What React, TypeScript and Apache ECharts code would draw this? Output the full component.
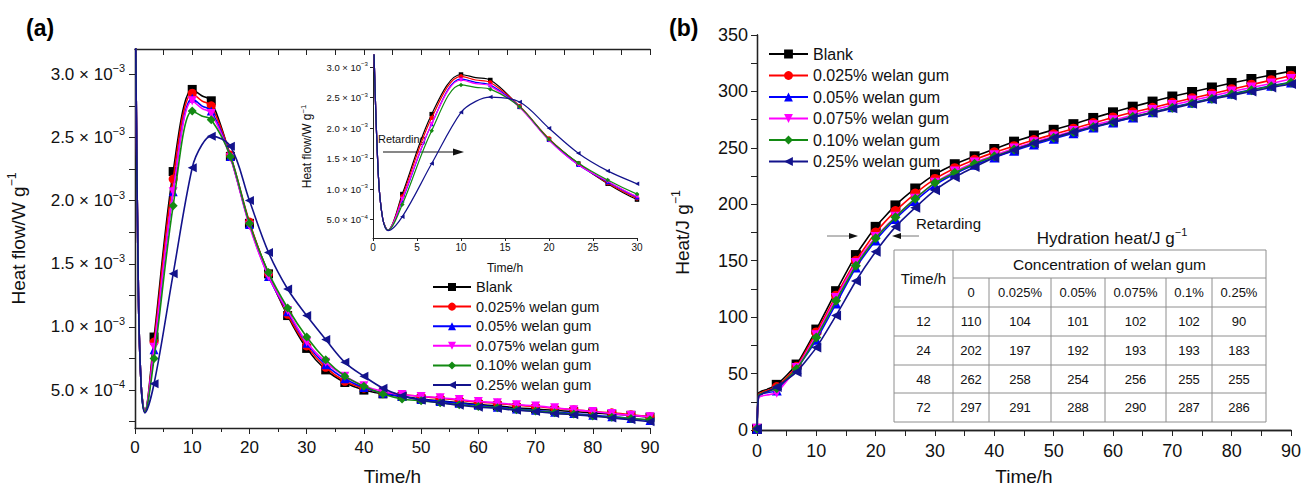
import React, { useEffect, useRef } from 'react';
import * as echarts from 'echarts';

const FONT = '"Liberation Sans", Arial, Helvetica, sans-serif';

// ---------- series definitions ----------
const seriesNames = ['Blank', '0.025% welan gum', '0.05% welan gum', '0.075% welan gum', '0.10% welan gum', '0.25% welan gum'];
const seriesColors = ['#000000', '#ff0000', '#0000ff', '#ff00ff', '#138a13', '#13138c'];
const seriesSymbols = ['rect', 'circle', 'triangle', 'triangle', 'diamond', 'triangle'];
const seriesRotations = [0, 0, 0, 180, 0, 90];

// ---------- (a) heat flow, in 10^-3 W/g ----------
const flowTimes = [0.05, 0.6, 1.1, 1.7, 3.33, 6.67, 10, 11.67, 13.33, 16.67, 20, 23.33, 26.67, 30, 33.33, 36.67, 40, 43.33, 46.67, 50, 53.33, 56.67, 60, 63.33, 66.67, 70, 73.33, 76.67, 80, 83.33, 86.67, 90];
const flowBlank = [3.6, 1.25, 0.52, 0.33, 0.92, 2.23, 2.88, 2.83, 2.79, 2.35, 1.82, 1.42, 1.09, 0.83, 0.66, 0.56, 0.5, 0.47, 0.45, 0.43, 0.415, 0.4, 0.385, 0.375, 0.36, 0.35, 0.34, 0.33, 0.32, 0.31, 0.3, 0.285];
const flow0025 = [3.6, 1.25, 0.52, 0.33, 0.88, 2.17, 2.85, 2.79, 2.75, 2.36, 1.83, 1.42, 1.1, 0.85, 0.68, 0.57, 0.515, 0.48, 0.465, 0.45, 0.435, 0.42, 0.405, 0.395, 0.38, 0.37, 0.355, 0.345, 0.33, 0.32, 0.305, 0.29];
const flow005 = [3.6, 1.25, 0.52, 0.33, 0.82, 2.07, 2.81, 2.75, 2.71, 2.35, 1.81, 1.4, 1.12, 0.87, 0.7, 0.59, 0.52, 0.475, 0.45, 0.425, 0.41, 0.395, 0.38, 0.365, 0.35, 0.34, 0.325, 0.315, 0.3, 0.29, 0.275, 0.26];
const flow0075 = [3.6, 1.25, 0.52, 0.33, 0.84, 2.07, 2.79, 2.73, 2.69, 2.34, 1.8, 1.4, 1.13, 0.88, 0.72, 0.61, 0.535, 0.49, 0.465, 0.45, 0.44, 0.425, 0.41, 0.4, 0.385, 0.375, 0.36, 0.345, 0.33, 0.315, 0.3, 0.29];
const flow010 = [3.6, 1.25, 0.52, 0.33, 0.75, 1.96, 2.71, 2.67, 2.64, 2.35, 1.82, 1.43, 1.15, 0.92, 0.74, 0.61, 0.53, 0.47, 0.43, 0.415, 0.4, 0.385, 0.37, 0.36, 0.345, 0.335, 0.32, 0.31, 0.295, 0.285, 0.275, 0.265];
const flow025 = [3.6, 1.25, 0.52, 0.32, 0.55, 1.42, 2.26, 2.44, 2.51, 2.43, 2.0, 1.59, 1.3, 1.09, 0.9, 0.72, 0.61, 0.515, 0.455, 0.42, 0.4, 0.38, 0.365, 0.355, 0.34, 0.33, 0.315, 0.305, 0.295, 0.28, 0.265, 0.25];
const flowSeries = [flowBlank, flow0025, flow005, flow0075, flow010, flow025];
const flowLabelValues = [0.5, 1.0, 1.5, 2.0, 2.5, 3.0];
const flowTickValues = [0.25, 0.5, 0.75, 1.0, 1.25, 1.5, 1.75, 2.0, 2.25, 2.5, 2.75, 3.0];

// ---------- (b) cumulative heat, J/g ----------
const heatTimes = [0, 0.3, 1.7, 3.33, 6.67, 10, 13.33, 16.67, 20, 23.33, 26.67, 30, 33.33, 36.67, 40, 43.33, 46.67, 50, 53.33, 56.67, 60, 63.33, 66.67, 70, 73.33, 76.67, 80, 83.33, 86.67, 90];
const heatBlank = [1, 33, 36, 40, 58, 89, 123, 155, 180, 199, 214, 226.5, 235.5, 242.5, 249, 255.5, 261, 266, 271, 276.5, 281.5, 286.5, 291, 295.5, 299.5, 303.5, 307.5, 311, 314.5, 318];
const heat0025 = [1, 32, 35, 38, 56, 86.5, 119, 150, 175, 194, 209.5, 222.5, 232, 239.5, 246, 251.5, 257, 262, 267, 272, 277, 281.5, 285.5, 290, 294, 298, 302, 306, 310, 314];
const heat005 = [1, 31, 33, 35, 54, 80, 112, 144, 168, 187, 203, 217, 227, 235, 241.5, 247.5, 253, 258, 263, 268, 272.5, 277, 281.5, 286, 290, 294, 298, 301.5, 305, 308];
const heat0075 = [1, 29, 31, 33, 55, 84, 117, 148, 171, 189, 205, 219, 229, 237, 243.5, 249.5, 255, 260, 265, 270, 274.5, 279, 283.5, 288, 292, 296, 300, 303.5, 307, 311];
const heat010 = [1, 31, 34, 37, 54, 82, 114.5, 145.5, 170, 188.5, 205, 219, 228, 236, 242.5, 248.5, 254, 259, 264, 268.5, 273, 277.5, 281.5, 285.5, 289.5, 293.5, 297.5, 301, 304.5, 308];
const heat025 = [1, 30, 34, 38, 51.5, 73, 101.5, 132, 158, 180, 197, 212.5, 224, 233, 241.5, 248, 254, 259, 264, 268.5, 273, 277, 281, 285, 289, 293, 296.5, 300, 303.5, 306.5];
const heatSeries = [heatBlank, heat0025, heat005, heat0075, heat010, heat025];

// ---------- table ----------
const tableTitle = 'Hydration heat/J g';
const tableHeaderTime = 'Time/h';
const tableHeaderConc = 'Concentration of welan gum';
const tableConcs = ['0', '0.025%', '0.05%', '0.075%', '0.1%', '0.25%'];
const tableTimes = [12, 24, 48, 72];
const tableRow12 = [110, 104, 101, 102, 102, 90];
const tableRow24 = [202, 197, 192, 193, 193, 183];
const tableRow48 = [262, 258, 254, 256, 255, 255];
const tableRow72 = [297, 291, 288, 290, 287, 286];
const tableRows = [tableRow12, tableRow24, tableRow48, tableRow72];

const isThird = (t: number) => Math.abs(t * 0.3 - Math.round(t * 0.3)) < 0.01;

function buildData(times: number[], values: number[], marker: (t: number) => boolean) {
  return times.map((t, i) => (marker(t) ? [t, values[i]] : { value: [t, values[i]], symbol: 'none' }));
}

const flowLabel = (v: number) =>
  v >= 0.99 ? `{b|${v.toFixed(1)} × 10}{s|−3}` : `{b|${(v * 10).toFixed(1)} × 10}{s|−4}`;

const supRich = (fs: number, key: string) => {
  const ss = Math.round(fs * 0.64 * 10) / 10;
  return {
    [key]: { fontSize: fs, fontFamily: FONT, color: '#111' },
    s: { fontSize: ss, fontFamily: FONT, color: '#111', padding: [0, 0, Math.round(fs * 0.7), 0] },
  };
};

function buildOption(): any {
  const axisLine = { show: true, lineStyle: { color: '#222', width: 1.3 } };
  const series: any[] = [];
  // (a) main
  flowSeries.forEach((vals, k) => {
    series.push({
      name: seriesNames[k], type: 'line', xAxisIndex: 0, yAxisIndex: 0,
      data: buildData(flowTimes, vals, (t) => t > 3 && isThird(t)),
      smooth: 0.35, symbol: seriesSymbols[k], symbolRotate: seriesRotations[k], symbolSize: 9,
      lineStyle: { color: seriesColors[k], width: 1.6 }, itemStyle: { color: seriesColors[k] },
      z: 3 + k,
    });
  });
  // (b)
  heatSeries.forEach((vals, k) => {
    series.push({
      name: seriesNames[k], type: 'line', xAxisIndex: 3, yAxisIndex: 3,
      data: buildData(heatTimes, vals, (t) => t === 0 || (t > 3 && isThird(t))),
      smooth: 0.15, symbol: seriesSymbols[k], symbolRotate: seriesRotations[k], symbolSize: 10,
      lineStyle: { color: seriesColors[k], width: 1.6 }, itemStyle: { color: seriesColors[k] },
      z: 3 + k,
    });
  });
  // (a) inset
  flowSeries.forEach((vals, k) => {
    series.push({
      name: seriesNames[k], type: 'line', xAxisIndex: 2, yAxisIndex: 2,
      data: buildData(flowTimes, vals, (t) => t > 3 && isThird(t)),
      smooth: 0.35, symbol: seriesSymbols[k], symbolRotate: seriesRotations[k], symbolSize: 4.5,
      lineStyle: { color: seriesColors[k], width: 1.2 }, itemStyle: { color: seriesColors[k] },
      z: 3 + k,
    });
  });

  // ---- graphic: labels, arrows, table ----
  const graphic: any[] = [];
  graphic.push({ type: 'text', x: 26, y: 28, style: { text: '(a)', font: `bold 23px ${FONT}`, fill: '#000', verticalAlign: 'middle' } });
  graphic.push({ type: 'text', x: 669, y: 28, style: { text: '(b)', font: `bold 23px ${FONT}`, fill: '#000', verticalAlign: 'middle' } });
  // inset retarding arrow
  graphic.push({ type: 'text', x: 378, y: 139, style: { text: 'Retarding', font: `11px ${FONT}`, fill: '#111', verticalAlign: 'middle' } });
  graphic.push({ type: 'line', shape: { x1: 383, y1: 152, x2: 455, y2: 152 }, style: { stroke: '#111', lineWidth: 1.2 } });
  graphic.push({ type: 'polygon', shape: { points: [[464, 152], [453, 148.5], [453, 155.5]] }, style: { fill: '#111' } });
  // (b) retarding arrows
  graphic.push({ type: 'text', x: 916, y: 223, style: { text: 'Retarding', font: `15px ${FONT}`, fill: '#111', verticalAlign: 'middle' } });
  graphic.push({ type: 'line', shape: { x1: 827, y1: 236, x2: 850, y2: 236 }, style: { stroke: '#777', lineWidth: 1 } });
  graphic.push({ type: 'polygon', shape: { points: [[858, 236], [849, 233], [849, 239]] }, style: { fill: '#111' } });
  graphic.push({ type: 'line', shape: { x1: 900, y1: 236, x2: 919, y2: 236 }, style: { stroke: '#777', lineWidth: 1 } });
  graphic.push({ type: 'polygon', shape: { points: [[892, 236], [901, 233], [901, 239]] }, style: { fill: '#111' } });

  // table
  const colX = [894, 953, 989, 1051, 1105, 1166, 1212, 1266];
  const rowY = [250, 278, 307, 336, 365, 393, 422];
  const gridStroke = { stroke: '#8e8e8e', lineWidth: 1 };
  graphic.push({ type: 'rect', shape: { x: colX[0], y: rowY[0], width: colX[7] - colX[0], height: rowY[6] - rowY[0] }, style: { fill: '#fff', stroke: '#8e8e8e', lineWidth: 1 } });
  graphic.push({ type: 'line', shape: { x1: colX[1], y1: rowY[1], x2: colX[7], y2: rowY[1] }, style: gridStroke });
  for (let r = 2; r < 6; r++) graphic.push({ type: 'line', shape: { x1: colX[0], y1: rowY[r], x2: colX[7], y2: rowY[r] }, style: gridStroke });
  graphic.push({ type: 'line', shape: { x1: colX[1], y1: rowY[0], x2: colX[1], y2: rowY[6] }, style: gridStroke });
  for (let c = 2; c < 7; c++) graphic.push({ type: 'line', shape: { x1: colX[c], y1: rowY[1], x2: colX[c], y2: rowY[6] }, style: gridStroke });
  const cellText = (x: number, y: number, text: string, fs: number) => ({
    type: 'text', x, y, style: { text, font: `${fs}px ${FONT}`, fill: '#111', align: 'center', verticalAlign: 'middle' },
  });
  graphic.push({
    type: 'text', x: 1112, y: 238,
    style: { text: `{a|${tableTitle}}{s|−1}`, rich: supRich(17, 'a'), align: 'center', verticalAlign: 'middle', fill: '#111' },
  });
  graphic.push(cellText((colX[0] + colX[1]) / 2, (rowY[0] + rowY[2]) / 2, tableHeaderTime, 15));
  graphic.push(cellText((colX[1] + colX[7]) / 2, (rowY[0] + rowY[1]) / 2, tableHeaderConc, 15.5));
  tableConcs.forEach((c, j) => graphic.push(cellText((colX[j + 1] + colX[j + 2]) / 2, (rowY[1] + rowY[2]) / 2, c, 13)));
  tableTimes.forEach((t, i) => {
    const yc = (rowY[i + 2] + rowY[i + 3]) / 2;
    graphic.push(cellText((colX[0] + colX[1]) / 2, yc, String(t), 13));
    tableRows[i].forEach((v, j) => graphic.push(cellText((colX[j + 1] + colX[j + 2]) / 2, yc, String(v), 13)));
  });

  const hiddenLabel = { show: false };

  return {
    animation: false,
    backgroundColor: '#fff',
    textStyle: { fontFamily: FONT },
    grid: [
      { left: 135, top: 49, width: 515, height: 379 },
      { left: 373, top: 55, width: 264, height: 183 },
      { left: 757, top: 35, width: 536, height: 395 },
    ],
    legend: [
      {
        data: seriesNames, orient: 'vertical', left: 432, top: 279, padding: 0,
        itemWidth: 38, itemHeight: 10, itemGap: 3.6,
        textStyle: { fontSize: 14.5, fontFamily: FONT, color: '#111', lineHeight: 16 },
      },
      {
        data: seriesNames, orient: 'vertical', left: 768, top: 46, padding: 0,
        itemWidth: 39, itemHeight: 11, itemGap: 5.5,
        textStyle: { fontSize: 16, fontFamily: FONT, color: '#111', lineHeight: 16 },
      },
    ],
    xAxis: [
      {
        gridIndex: 0, type: 'value', min: 0, max: 90, interval: 10, axisLine,
        axisTick: { show: true, length: 6, lineStyle: { color: '#222' } },
        minorTick: { show: true, splitNumber: 2, length: 4, lineStyle: { color: '#222' } },
        axisLabel: { fontSize: 17, color: '#111', margin: 11, fontFamily: FONT },
        splitLine: { show: false },
        name: 'Time/h', nameLocation: 'middle', nameGap: 39,
        nameTextStyle: { fontSize: 19, color: '#111', fontFamily: FONT },
      },
      {
        gridIndex: 0, type: 'value', position: 'top', min: 0, max: 90, interval: 10, axisLine,
        axisTick: { show: true, inside: true, length: 6, lineStyle: { color: '#222' } },
        minorTick: { show: true, splitNumber: 2, length: 6, lineStyle: { color: '#222' } },
        axisLabel: hiddenLabel, splitLine: { show: false },
      },
      {
        gridIndex: 1, type: 'value', min: 0, max: 30, interval: 5,
        axisLine: { show: true, lineStyle: { color: '#222', width: 1 } },
        axisTick: { show: true, length: 3, lineStyle: { color: '#222' } },
        axisLabel: { fontSize: 10, color: '#111', margin: 4, fontFamily: FONT },
        splitLine: { show: false },
        name: 'Time/h', nameLocation: 'middle', nameGap: 24,
        nameTextStyle: { fontSize: 12, color: '#111', fontFamily: FONT },
      },
      {
        gridIndex: 2, type: 'value', min: 0, max: 90, interval: 10, axisLine,
        axisTick: { show: true, length: 6, lineStyle: { color: '#222' } },
        minorTick: { show: true, splitNumber: 2, length: 4, lineStyle: { color: '#222' } },
        axisLabel: { fontSize: 18, color: '#111', margin: 12, fontFamily: FONT },
        splitLine: { show: false },
        name: 'Time/h', nameLocation: 'middle', nameGap: 37,
        nameTextStyle: { fontSize: 19, color: '#111', fontFamily: FONT },
      },
      {
        gridIndex: 2, type: 'value', position: 'top', min: 0, max: 90, interval: 10, axisLine,
        axisTick: { show: true, inside: true, length: 6, lineStyle: { color: '#222' } },
        minorTick: { show: true, splitNumber: 2, length: 6, lineStyle: { color: '#222' } },
        axisLabel: hiddenLabel, splitLine: { show: false },
      },
    ],
    yAxis: [
      {
        gridIndex: 0, type: 'value', min: 0.2, max: 3.2, axisLine,
        axisTick: { show: true, length: 6, customValues: flowTickValues, lineStyle: { color: '#222' } },
        axisLabel: { customValues: flowLabelValues, formatter: flowLabel, rich: supRich(17, 'b'), margin: 10 },
        splitLine: { show: false },
        name: '{a|Heat flow/W g}{s|−1}', nameLocation: 'middle', nameGap: 104, nameRotate: 90,
        nameTextStyle: { rich: supRich(19, 'a') },
      },
      {
        gridIndex: 0, type: 'value', position: 'right', min: 0.2, max: 3.2, axisLine,
        axisTick: { show: true, inside: true, length: 6, customValues: flowTickValues, lineStyle: { color: '#222' } },
        axisLabel: hiddenLabel, splitLine: { show: false },
      },
      {
        gridIndex: 1, type: 'value', min: 0.2, max: 3.2,
        axisLine: { show: true, lineStyle: { color: '#222', width: 1 } },
        axisTick: { show: true, length: 3, customValues: flowLabelValues, lineStyle: { color: '#222' } },
        axisLabel: { customValues: flowLabelValues, formatter: flowLabel, rich: supRich(9.5, 'b'), margin: 5 },
        splitLine: { show: false },
        name: '{a|Heat flow/W g}{s|−1}', nameLocation: 'middle', nameGap: 58, nameRotate: 90,
        nameTextStyle: { rich: supRich(12, 'a') },
      },
      {
        gridIndex: 2, type: 'value', min: 0, max: 350, interval: 50, axisLine,
        axisTick: { show: true, length: 6, lineStyle: { color: '#222' } },
        minorTick: { show: true, splitNumber: 2, length: 6, lineStyle: { color: '#222' } },
        axisLabel: { fontSize: 18, color: '#111', margin: 9, fontFamily: FONT },
        splitLine: { show: false },
        name: '{a|Heat/J g}{s|−1}', nameLocation: 'middle', nameGap: 62, nameRotate: 90,
        nameTextStyle: { rich: supRich(19, 'a') },
      },
      {
        gridIndex: 2, type: 'value', position: 'right', min: 0, max: 350, interval: 50, axisLine,
        axisTick: { show: true, inside: true, length: 6, lineStyle: { color: '#222' } },
        minorTick: { show: true, splitNumber: 2, length: 6, lineStyle: { color: '#222' } },
        axisLabel: hiddenLabel, splitLine: { show: false },
      },
    ],
    series,
    graphic,
  };
}

export default function App() {
  const ref = useRef<HTMLDivElement>(null);
  useEffect(() => {
    document.body.style.margin = '0';
    const chart = echarts.init(ref.current!, null, { renderer: 'svg' });
    chart.setOption(buildOption());
    return () => chart.dispose();
  }, []);
  return <div ref={ref} style={{ width: 1304, height: 492 }} />;
}
